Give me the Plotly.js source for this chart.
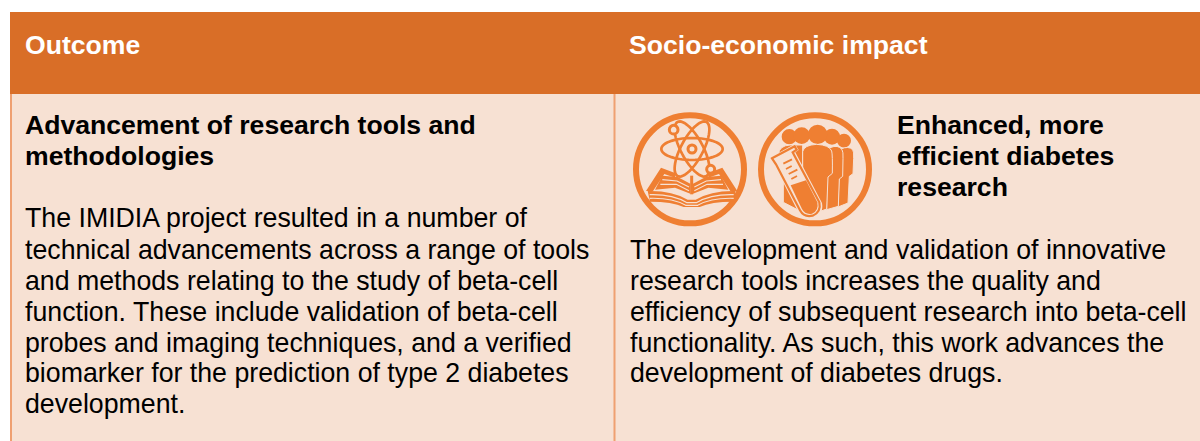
<!DOCTYPE html>
<html><head><meta charset="utf-8">
<script src="https://cdn.plot.ly/plotly-3.0.1.min.js"></script>
<style>html,body{margin:0;padding:0;background:#fff;overflow:hidden}#c{width:1200px;height:441px}</style>
</head><body><div id="c"></div>
<script>
var headers = ["Outcome", "Socio-economic impact"];
var leftTitle = ["Advancement of research tools and", "methodologies"];
var leftBody = [
  "The IMIDIA project resulted in a number of",
  "technical advancements across a range of tools",
  "and methods relating to the study of beta-cell",
  "function. These include validation of beta-cell",
  "probes and imaging techniques, and a verified",
  "biomarker for the prediction of type 2 diabetes",
  "development."];
var rightTitle = ["Enhanced, more", "efficient diabetes", "research"];
var rightBody = [
  "The development and validation of innovative",
  "research tools increases the quality and",
  "efficiency of subsequent research into beta-cell",
  "functionality. As such, this work advances the",
  "development of diabetes drugs."];

var HEAD="#D96E27", BODY="#F7E1D3", RULE="#EFA071", ICON="#EF7F32";
var FONT="Liberation Sans, Arial, sans-serif";
var shapes=[], ann=[];
var ox=625, oy=105;
function text(s,x,y,size,bold,color){
  ann.push({x:x,y:y,xref:"x",yref:"y",xanchor:"left",yanchor:"middle",showarrow:false,align:"left",
    text:bold?"<b>"+s+"</b>":s,font:{family:FONT,size:size,color:color},borderpad:0,borderwidth:0});
}
function rect(x0,y0,x1,y1,c){shapes.push({type:"rect",x0:x0,y0:y0,x1:x1,y1:y1,fillcolor:c,line:{width:0},layer:"below"});}
function path(str,fill,lw,lc){
  var d=str.replace(/(-?\d+(?:\.\d+)?) (-?\d+(?:\.\d+)?)/g,function(m,a,b){
    return (a/3+ox).toFixed(2)+" "+(b/3+oy).toFixed(2);});
  shapes.push({type:"path",path:d,fillcolor:fill||"rgba(0,0,0,0)",line:{width:lw||0,color:lc||ICON},layer:"above"});
}
function circ(cx,cy,r,fill,lw,lc){
  shapes.push({type:"circle",x0:ox+(cx-r)/3,x1:ox+(cx+r)/3,y0:oy+(cy-r)/3,y1:oy+(cy+r)/3,
    fillcolor:fill||"rgba(0,0,0,0)",line:{width:lw||0,color:lc||ICON},layer:"above"});
}
function ell(cx,cy,a,b,deg){
  var t=deg*Math.PI/180,p=[];
  for(var i=0;i<=60;i++){var u=i/60*2*Math.PI,x=a*Math.cos(u),y=b*Math.sin(u);
    p.push((cx+x*Math.cos(t)-y*Math.sin(t)).toFixed(1)+" "+(cy+x*Math.sin(t)+y*Math.cos(t)).toFixed(1));}
  path("M"+p.join(" L")+" Z",null,2.7);
}
function mirror(s){return s.replace(/(-?\d+(?:\.\d+)?) (-?\d+(?:\.\d+)?)/g,function(m,a,b){return (400-a)+" "+b;});}

// panels
rect(10,12,1200,94,HEAD);
rect(10,94,1200,441,BODY);
rect(10,94,12,441,RULE);
rect(613.5,94,615.5,441,RULE);

// icon 1: atom over open book
circ(195,193,162,null,6);
ell(201,132,92,33,0); ell(201,132,92,33,62); ell(201,132,92,33,-62);
circ(201,132,12,BODY,3);
circ(146,74,13,BODY,3); circ(257,193,12,BODY,3);
var wing="M63 258 L108 188 L150 204 L150 218 L118 207 L84 258 Z";
path(wing,ICON); path(mirror(wing),ICON);
var pages="M112 212 L158 216 L196 236 L196 266 L150 248 L90 254 Z";
path(pages,ICON); path(mirror(pages),ICON);
["M112 224 L156 228 L192 246","M106 238 L154 238 L192 257"].forEach(function(s){
  path(s,null,1.1,BODY); path(mirror(s),null,1.1,BODY);});
path("M200 212 L200 268",null,3);
var base="M68 258 Q140 256 188 284 L212 284 Q260 256 332 258 L325 290 Q258 290 224 306 L176 306 Q142 290 75 290 Z";
path(base,ICON);
path("M74 269 Q142 267 186 293 L214 293 Q258 267 326 269",null,1.1,BODY);
path("M74 280 Q142 278 182 301 L218 301 Q258 278 326 280",null,1.1,BODY);

// icon 2: people and test tube
ox=750;
circ(195,193,162,null,6);
[[118,95,23],[155,92,25],[246,95,24],[282,107,21]].forEach(function(h){circ(h[0],h[1],h[2],ICON);});
circ(203,88,29,ICON);
var gap=[1,BODY];
path("M272 132 Q296 122 308 134 Q312 140 311 160 L309 206 L298 214 L294 294 L264 306 L270 132 Z",ICON,gap[0],gap[1]);
path("M240 128 Q265 118 276 134 Q280 140 279 160 L278 214 L268 222 L265 304 L230 314 L232 128 Z",ICON,gap[0],gap[1]);
path("M85 148 Q88 122 120 120 L158 120 L158 322 L100 292 L100 212 L87 192 Z",ICON,gap[0],gap[1]);
path("M158 140 Q162 120 200 118 Q238 120 245 138 Q248 150 247 205 L234 216 L230 312 L208 320 L170 322 L158 300 Z",ICON,gap[0],gap[1]);
// tube
path("M60 158 L135 116 L146 135 L136 142 L216 294 Q222 330 190 340 Q160 348 145 322 L78 190 Z",BODY);
path("M66 160 L134 124 L140 134 L128 142 L208 292 Q214 322 188 332 Q162 338 150 316 L78 178 Z",BODY,2.2,ICON);
path("M122 241 L168 226 L202 292 Q207 318 186 326 Q166 330 156 312 Z",ICON);
[[100,176,126,163],[108,192,125,183],[116,207,142,194],[124,222,141,213]]
  .forEach(function(t){path("M"+t[0]+" "+t[1]+" L"+t[2]+" "+t[3],null,1.8);});

// text
var SZ=26.72, SB=26.6;
text(headers[0],25,45,SB,true,"#FFFFFF");
text(headers[1],629,45,SB,true,"#FFFFFF");
var ly=[125,156];
leftTitle.forEach(function(s,i){text(s,25,ly[i],SB,true,"#000");});
var lb=[218,250,281,312,343,373,404];
leftBody.forEach(function(s,i){text(s,25,lb[i],SZ,false,"#000");});
var ry=[125,156,187];
rightTitle.forEach(function(s,i){text(s,897,ry[i],SB,true,"#000");});
var rb=[250,281,312,343,373];
rightBody.forEach(function(s,i){text(s,630,rb[i],SZ,false,"#000");});

Plotly.newPlot("c",[],{
  width:1200,height:441,margin:{l:0,r:0,t:0,b:0},
  paper_bgcolor:"#fff",plot_bgcolor:"#fff",showlegend:false,
  xaxis:{range:[0,1200],visible:false,fixedrange:true},
  yaxis:{range:[441,0],visible:false,fixedrange:true},
  shapes:shapes,annotations:ann
},{displayModeBar:false,staticPlot:true});
</script></body></html>
